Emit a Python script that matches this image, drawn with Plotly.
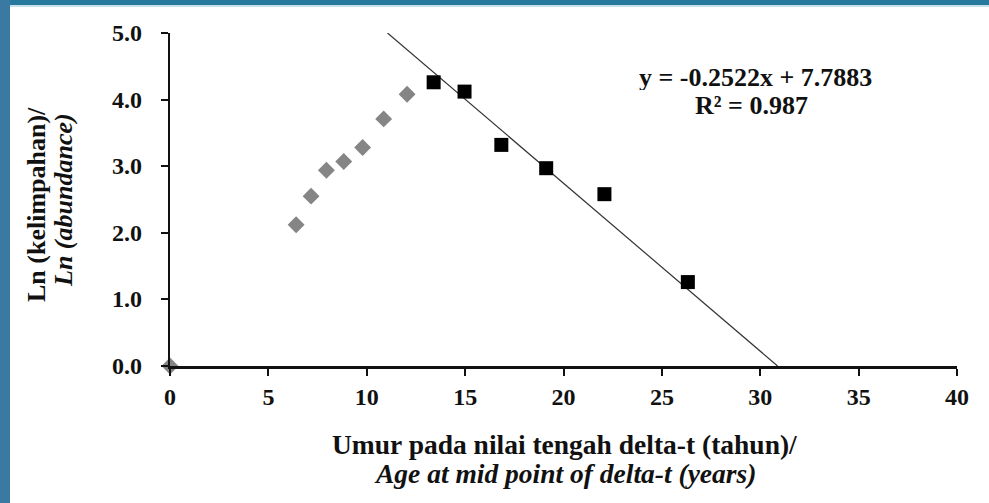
import plotly.graph_objects as go

# Ages (years) and ln(abundance) values
rise_age = [0.0, 6.41, 7.17, 7.95, 8.83, 9.79, 10.86, 12.05]
rise_ln = [0.0, 2.12, 2.55, 2.94, 3.07, 3.28, 3.71, 4.08]

decline_age = [13.40, 14.97, 16.84, 19.12, 22.08, 26.32]
decline_ln = [4.26, 4.12, 3.32, 2.97, 2.58, 1.26]

# Linear fit on the declining branch
slope = -0.2522
intercept = 7.7883
r_squared = 0.987

x_ticks = [0, 5, 10, 15, 20, 25, 30, 35, 40]
y_ticks = [0.0, 1.0, 2.0, 3.0, 4.0, 5.0]

W, H = 989, 503
ML, MR, MT, MB = 170, 32, 33, 137
PW, PH = W - ML - MR, H - MT - MB

SERIF = "Liberation Serif, Times New Roman, serif"
INK = "#111111"

# fit line drawn between y = 5 and y = 0
fit_x = [(5.0 - intercept) / slope, (0.0 - intercept) / slope]
fit_y = [slope * v + intercept for v in fit_x]

fig = go.Figure()
fig.add_trace(go.Scatter(
    x=fit_x, y=fit_y, mode="lines",
    line=dict(color="#333333", width=1.2), showlegend=False, hoverinfo="skip"))
fig.add_trace(go.Scatter(
    x=rise_age, y=rise_ln, mode="markers",
    marker=dict(symbol="diamond", size=13, color="#858585"),
    showlegend=False, cliponaxis=False))
fig.add_trace(go.Scatter(
    x=decline_age, y=decline_ln, mode="markers",
    marker=dict(symbol="square", size=14, color="#000000"),
    showlegend=False, cliponaxis=False))

def px_x(p):
    return (p - ML) / PW

def px_y(p):
    return 1 - (p - MT) / PH

shapes = [
    # slide frame bands
    dict(type="rect", xref="paper", yref="paper",
         x0=px_x(0), x1=px_x(W), y0=px_y(5), y1=px_y(0),
         fillcolor="#26789c", line=dict(width=0), layer="above"),
    dict(type="rect", xref="paper", yref="paper",
         x0=px_x(0), x1=px_x(W), y0=px_y(7), y1=px_y(5),
         fillcolor="#c9dfea", line=dict(width=0), layer="above"),
    dict(type="rect", xref="paper", yref="paper",
         x0=px_x(0), x1=px_x(10), y0=px_y(H), y1=px_y(0),
         fillcolor="#3a7aa2", line=dict(width=0), layer="above"),
]

TXT = dict(xref="paper", yref="paper", showarrow=False, xanchor="center", yanchor="middle")
annotations = [
    dict(text=f"<b>y = {slope}x + {intercept}</b>", x=px_x(755), y=px_y(77),
         font=dict(family=SERIF, size=26, color=INK), height=26, **TXT),
    dict(text=f"<b>R² = {r_squared}</b>", x=px_x(751), y=px_y(105),
         font=dict(family=SERIF, size=26, color=INK), height=26, **TXT),
    dict(text="<b>Umur pada nilai tengah delta-t (tahun)/</b>", x=px_x(564), y=px_y(444),
         font=dict(family=SERIF, size=27.5, color=INK), **TXT),
    dict(text="<b><i>Age at mid point of delta-t (years)</i></b>", x=px_x(565), y=px_y(473),
         font=dict(family=SERIF, size=27.5, color=INK), **TXT),
    dict(text="<b>Ln (kelimpahan)/</b>", x=px_x(36), y=px_y(205), textangle=-90,
         font=dict(family=SERIF, size=26, color=INK), **TXT),
    dict(text="<b><i>Ln (abundance)</i></b>", x=px_x(63), y=px_y(200), textangle=-90,
         font=dict(family=SERIF, size=26, color=INK), **TXT),
]
# y tick labels, set back from the axis line
for v in y_ticks:
    annotations.append(dict(
        text=f"<b>{v:.1f}</b>", x=px_x(144), y=v, xref="paper", yref="y",
        xanchor="right", yanchor="middle", showarrow=False,
        font=dict(family=SERIF, size=24, color=INK)))

fig.update_layout(
    width=W, height=H,
    margin=dict(l=ML, r=MR, t=MT, b=MB, pad=0),
    paper_bgcolor="white", plot_bgcolor="white",
    shapes=shapes, annotations=annotations,
    font=dict(family=SERIF, color=INK),
)
fig.update_xaxes(
    range=[0, 40], tickvals=x_ticks, ticktext=[f"<b>{v}</b>" for v in x_ticks],
    showgrid=False, zeroline=False, showline=True, linecolor=INK, linewidth=3,
    ticks="outside", ticklen=7, tickwidth=2, tickcolor=INK,
    tickfont=dict(family=SERIF, size=24, color=INK), fixedrange=True)
fig.update_yaxes(
    range=[0, 5], tickvals=y_ticks, showticklabels=False,
    showgrid=False, zeroline=False, showline=True, linecolor=INK, linewidth=2,
    ticks="outside", ticklen=7, tickwidth=2, tickcolor=INK, fixedrange=True)

fig.write_html("out.html")
